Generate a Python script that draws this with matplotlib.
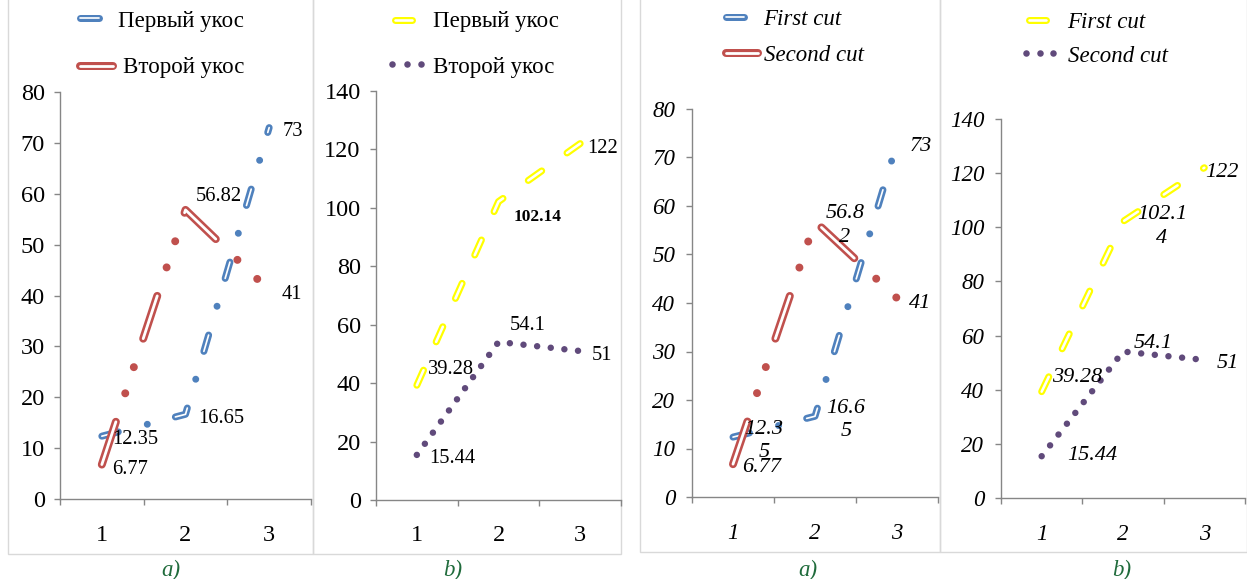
import matplotlib
matplotlib.use('Agg')
import matplotlib.pyplot as plt
from matplotlib.lines import Line2D
from matplotlib.patches import Rectangle
from matplotlib.transforms import Affine2D

plt.rcParams['lines.scale_dashes'] = False
plt.rcParams['font.family'] = ['Liberation Serif', 'DejaVu Serif']

W, H, DPI = 1247, 579, 100
PT = 72.0 / DPI

# ---------------- data ----------------
categories = [1, 2, 3]
first_cut_a = [12.35, 16.65, 73]
second_cut_a = [6.77, 56.82, 41]
first_cut_b = [39.28, 102.14, 122]
second_cut_b = [15.44, 54.1, 51]

labels_first_a_ru = ['12.35', '16.65', '73']
labels_second_a_ru = ['6.77', '56.82', '41']
labels_first_b_ru = ['39.28', '102.14', '122']
labels_second_b_ru = ['15.44', '54.1', '51']
labels_first_a_en = ['12.3\n5', '16.6\n5', '73']
labels_second_a_en = ['6.77', '56.8\n2', '41']
labels_first_b_en = ['39.28', '102.1\n4', '122']
labels_second_b_en = ['15.44', '54.1', '51']

legend_ru = ['Первый укос', 'Второй укос']
legend_en = ['First cut', 'Second cut']
yticks_a = [0, 10, 20, 30, 40, 50, 60, 70, 80]
yticks_b = [0, 20, 40, 60, 80, 100, 120, 140]
panel_tags = ['a)', 'b)', 'a)', 'b)']

# ---------------- styles ----------------
BLUE = '#4f81bd'
RED = '#c0504d'
YELLOW = '#ffff00'
PURPLE = '#604a7b'
AXC = '#868686'
BOXC = '#d9d9d9'
GREEN = '#1f6b3b'


def px(v):
    return v * PT


STY = {
    'blue': dict(color=BLUE, lw=7.0, inner=1.7, dash=[17, 30, 0.01, 29], wdash=[17, 59.01]),
    'red': dict(color=RED, lw=8.0, inner=2.8, dash=[45, 30, 0.01, 27.5, 0.01, 30],
                wdash=[45, 87.52]),
    'yellow': dict(color=YELLOW, lw=7.0, inner=2.6, dash=[16.5, 31], wdash=[16.5, 31]),
    'purple': dict(color=PURPLE, lw=6.5, inner=None, dash=[0.01, 13.7]),
}

fig = plt.figure(figsize=(W / DPI, H / DPI), dpi=DPI)
fig.patch.set_facecolor('white')
pix = Affine2D().scale(1.0 / W, -1.0 / H).translate(0, 1) + fig.transFigure

# panel boxes
for (x0, x1, y1) in [(8, 313, 554), (313, 621, 554), (640, 940, 552), (940, 1247, 552)]:
    fig.add_artist(Rectangle((x0, -3), x1 - x0, y1 + 3, transform=pix, fill=False,
                             edgecolor=BOXC, lw=1.0, zorder=-1))


def add_ax(l, r, t, b):
    return fig.add_axes([l / W, 1 - b / H, (r - l) / W, (b - t) / H])


def style(ax, yt, italic, fs, xpad, ypad):
    ax.set_xlim(0.5, 3.5)
    ax.set_ylim(0, yt[-1])
    ax.patch.set_alpha(0)
    for s in ['top', 'right']:
        ax.spines[s].set_visible(False)
    for s in ['left', 'bottom']:
        ax.spines[s].set_color(AXC)
        ax.spines[s].set_linewidth(1.0)
    fst = 'italic' if italic else 'normal'
    ax.set_yticks(yt, labels=[str(v) for v in yt], fontsize=fs, fontstyle=fst,
                  fontfamily='Liberation Serif')
    ax.set_xticks([0.5, 1.5, 2.5, 3.5], labels=['', '', '', ''])
    ax.set_xticks(categories, labels=[str(c) for c in categories], minor=True,
                  fontsize=fs, fontstyle=fst, fontfamily='Liberation Serif')
    ax.tick_params(axis='x', which='major', length=4, width=1, color=AXC, direction='out')
    ax.tick_params(axis='x', which='minor', length=0, pad=xpad, labelcolor='black')
    ax.tick_params(axis='y', length=4, width=1, color=AXC, pad=ypad, labelcolor='black')


def draw(ax, ys, key, z):
    s = STY[key]
    ax.plot(categories, ys, color=s['color'], lw=px(s['lw']),
            dashes=[px(d) for d in s['dash']], dash_capstyle='round',
            dash_joinstyle='round', zorder=z, clip_on=False)
    if s['inner']:
        ax.plot(categories, ys, color='white', lw=px(s['inner']),
                dashes=[px(d) for d in s['wdash']], dash_capstyle='round',
                dash_joinstyle='round', zorder=z + 0.1, clip_on=False)


def annotate(ax, ys, texts, offs, fs, italic, ha='left', weight='normal'):
    for x, y, t, (dx, dy) in zip(categories, ys, texts, offs):
        h = 'center' if '\n' in t else ha
        ax.annotate(t, xy=(x, y), xytext=(dx, dy), textcoords='offset pixels',
                    ha=h, va='center', fontsize=fs, fontfamily='Liberation Serif',
                    fontstyle='italic' if italic else 'normal', fontweight=weight,
                    linespacing=1.3, multialignment='center', zorder=10)


def sample(x0, x1, y, key):
    s = STY[key]
    if key == 'purple':
        xs = [x0, (x0 + x1) / 2.0, x1]
        fig.add_artist(Line2D(xs, [y] * 3, transform=pix, ls='none', marker='o',
                              ms=px(s['lw']), mfc=s['color'], mec=s['color'], mew=0))
        return
    h = s['lw'] / 2.0
    fig.add_artist(Line2D([x0 + h, x1 - h], [y, y], transform=pix, color=s['color'],
                          lw=px(s['lw']), solid_capstyle='round'))
    fig.add_artist(Line2D([x0 + h, x1 - h], [y, y], transform=pix, color='white',
                          lw=px(s['inner']), solid_capstyle='round'))


def legend_text(x, y, t, italic):
    fig.text(x / W, 1 - y / H, t, ha='left', va='center', fontsize=16.5,
             fontfamily='Liberation Serif', fontstyle='italic' if italic else 'normal')


# ---------------- panel 1 ----------------
ax1 = add_ax(60, 311, 92, 499)
style(ax1, yticks_a, False, 17.5, 19, 7)
draw(ax1, first_cut_a, 'blue', 3)
draw(ax1, second_cut_a, 'red', 4)
annotate(ax1, first_cut_a, labels_first_a_ru, [(10, -3), (12.5, -4), (13, -3.5)], 14.8, False)
annotate(ax1, second_cut_a, labels_second_a_ru, [(10, -4.5), (10.5, 13), (12, -4)], 14.8, False)
sample(76, 102, 18, 'blue')
sample(76, 117, 66, 'red')
legend_text(118, 21.7, legend_ru[0], False)
legend_text(123, 68, legend_ru[1], False)

# ---------------- panel 2 ----------------
ax2 = add_ax(376, 621, 91, 500)
style(ax2, yticks_b, False, 17.5, 18, 7)
draw(ax2, first_cut_b, 'yellow', 3)
draw(ax2, second_cut_b, 'purple', 4)
annotate(ax2, first_cut_b[:1], labels_first_b_ru[:1], [(11, 15.3)], 14.8, False)
ax2.annotate(labels_first_b_ru[1], xy=(categories[1], first_cut_b[1]), xytext=(15.5, -15.5),
             textcoords='offset pixels', ha='left', va='center', fontsize=12.5,
             fontweight='bold', fontfamily='Liberation Serif', zorder=10)
ax2.annotate(labels_first_b_ru[2], xy=(categories[2], first_cut_b[2]), xytext=(7, -4.5),
             textcoords='offset pixels', ha='left', va='center', fontsize=14.8,
             fontfamily='Liberation Serif', zorder=10)
annotate(ax2, second_cut_b, labels_second_b_ru, [(12, -4), (11.5, 16), (12, -4)], 14.8, False)
sample(391, 415, 20, 'yellow')
sample(392, 421, 64, 'purple')
legend_text(433, 22, legend_ru[0], False)
legend_text(433, 67.5, legend_ru[1], False)

# ---------------- panel 3 ----------------
ax3 = add_ax(692, 938, 109, 497)
style(ax3, yticks_a, True, 16.5, 19, 8)
draw(ax3, first_cut_a, 'blue', 3)
draw(ax3, second_cut_a, 'red', 4)
annotate(ax3, first_cut_a, labels_first_a_en, [(31, -3.5), (31, -3.5), (13, -4)], 16, True)
annotate(ax3, second_cut_a, labels_second_a_en, [(9, -3), (30, -4), (12, -5)], 16, True)
sample(722, 747, 17, 'blue')
sample(722, 762, 53, 'red')
legend_text(763, 19.5, legend_en[0], True)
legend_text(764, 55.7, legend_en[1], True)

# ---------------- panel 4 ----------------
ax4 = add_ax(1001, 1245, 119, 498)
style(ax4, yticks_b, True, 16.5, 19, 8)
draw(ax4, first_cut_b, 'yellow', 3)
draw(ax4, second_cut_b, 'purple', 4)
annotate(ax4, first_cut_b, labels_first_b_en, [(10, 13.7), (39, -5), (1, -4.5)], 16, True)
annotate(ax4, second_cut_b, labels_second_b_en, [(26, 1), (11, 7.6), (12, -4)], 16, True)
sample(1025, 1049, 20, 'yellow')
sample(1026, 1053, 53, 'purple')
legend_text(1067, 22.8, legend_en[0], True)
legend_text(1068, 56.5, legend_en[1], True)

# ---------------- panel tags ----------------
for x, t in zip([171, 453, 808, 1122], panel_tags):
    fig.text(x / W, 1 - 576 / H, t, ha='center', va='baseline', fontsize=16.5,
             fontstyle='italic', color=GREEN, fontfamily='Liberation Serif')

fig.savefig('out.png', dpi=DPI, facecolor='white')
